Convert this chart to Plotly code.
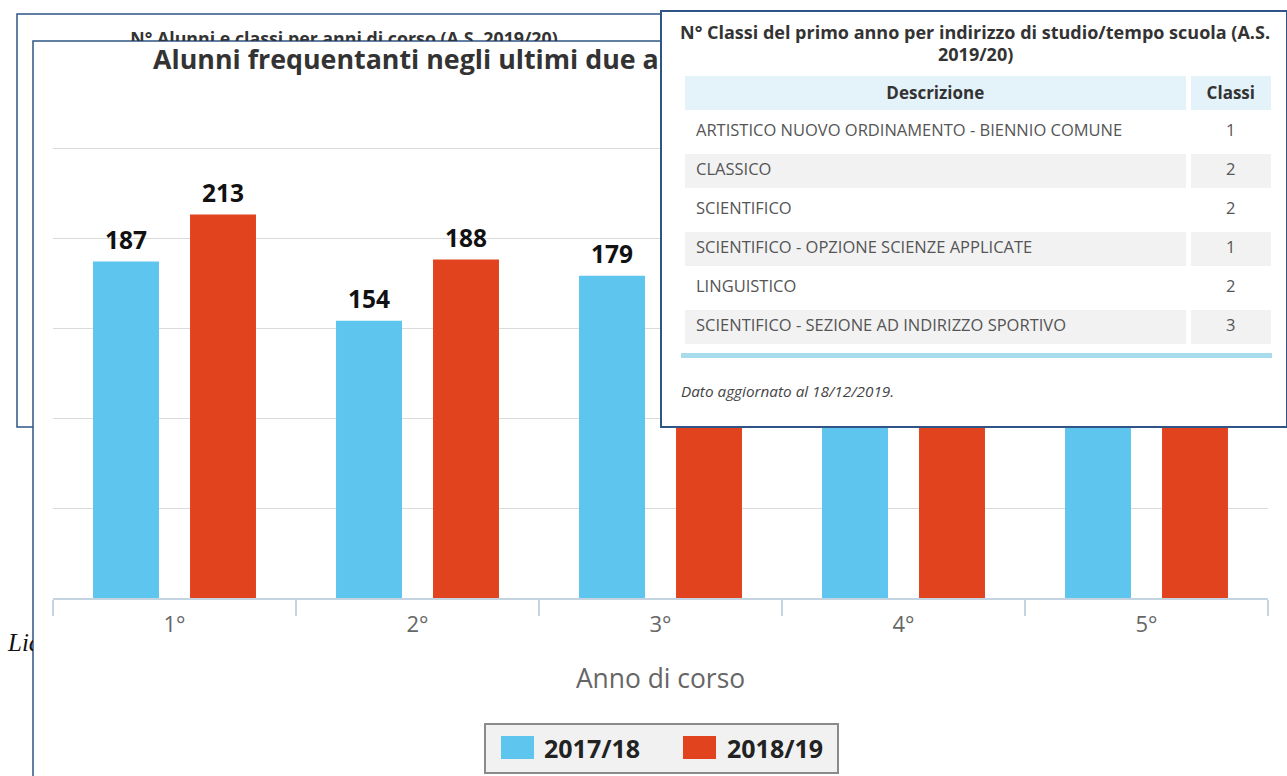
import plotly.graph_objects as go

# ---------------- data ----------------
categories = ["1°", "2°", "3°", "4°", "5°"]
series_names = ["2017/18", "2018/19"]
values_2017_18 = [187, 154, 179, 168, 160]
values_2018_19 = [213, 188, 175, 178, 170]
series_colors = ["#5EC5EE", "#E2431F"]

table_header = ["Descrizione", "Classi"]
table_desc = [
    "ARTISTICO NUOVO ORDINAMENTO - BIENNIO COMUNE",
    "CLASSICO",
    "SCIENTIFICO",
    "SCIENTIFICO - OPZIONE SCIENZE APPLICATE",
    "LINGUISTICO",
    "SCIENTIFICO - SEZIONE AD INDIRIZZO SPORTIVO",
]
table_classi = [1, 2, 2, 1, 2, 3]

main_title = "Alunni frequentanti negli ultimi due anni"
back_title = "N° Alunni e classi per anni di corso (A.S. 2019/20)"
table_title_1 = "N° Classi del primo anno per indirizzo di studio/tempo scuola (A.S."
table_title_2 = "2019/20)"
table_note = "Dato aggiornato al 18/12/2019."
x_title = "Anno di corso"
side_text = "Liceo"

# ---------------- layout helpers ----------------
W, H = 1287, 776
FONT = "Open Sans"
BORDER = "#2E5585"
CLEAR = "rgba(0,0,0,0)"


def fx(px):
    return px / W


def fy(py):
    return 1 - py / H


fig = go.Figure()

# bars
for name, vals, col, og in zip(series_names, [values_2017_18, values_2018_19], series_colors, ["a", "b"]):
    fig.add_trace(go.Bar(
        x=categories, y=vals, name=name, marker=dict(color=col, line=dict(width=0)),
        offsetgroup=og, hoverinfo="skip",
    ))

# value labels above bars
for name, vals, og in zip(series_names, [values_2017_18, values_2018_19], ["a", "b"]):
    fig.add_trace(go.Scatter(
        x=categories, y=vals, mode="markers+text", text=[str(v) for v in vals],
        textposition="top center", marker=dict(size=9, opacity=0),
        textfont=dict(family=FONT, size=24.5, color="#111111", weight="bold"),
        offsetgroup=og, cliponaxis=False, hoverinfo="skip", showlegend=False,
    ))

# main title (full-page overlay axes, covered by the table panel)
fig.add_trace(go.Scatter(
    x=[153], y=[62], xaxis="x2", yaxis="y2", mode="text", text=[main_title],
    textposition="middle right",
    textfont=dict(family=FONT, size=26.8, color="#333333", weight="bold"),
    hoverinfo="skip", showlegend=False,
))

# back panel title (clipped by the main panel top edge)
fig.add_trace(go.Scatter(
    x=[344], y=[40.5], xaxis="x3", yaxis="y3", mode="text", text=[back_title],
    textposition="middle center",
    textfont=dict(family=FONT, size=17.8, color="#333333", weight="bold"),
    hoverinfo="skip", showlegend=False, cliponaxis=True,
))

# side text clipped by main panel left edge
fig.add_trace(go.Scatter(
    x=[8], y=[645], xaxis="x4", yaxis="y4", mode="text", text=[side_text],
    textposition="middle right",
    textfont=dict(family="Liberation Serif", size=25, color="#111111", style="italic"),
    hoverinfo="skip", showlegend=False, cliponaxis=True,
))

# table panel background (a one-cell table drawn above the chart)
fig.add_trace(go.Table(
    domain=dict(x=[fx(661), 1], y=[fy(428.5), fy(11)]),
    columnwidth=[1],
    header=dict(values=[""], height=416, fill_color="white", line=dict(color=BORDER, width=2)),
    cells=dict(values=[[""]], height=1, fill_color="white", line=dict(color="white", width=0)),
))

# table: row structure + header
n = len(table_desc)
row_fill = ["#FFFFFF" if i % 2 == 0 else "#F2F2F2" for i in range(n)]
HEADER_H, ROW_H = 37, 39
fig.add_trace(go.Table(
    domain=dict(x=[fx(682), fx(1273)], y=[fy(73 + HEADER_H + n * ROW_H + 2), fy(73)]),
    columnwidth=[506.6, 84.4],
    header=dict(
        values=["<b>%s</b>" % h for h in table_header],
        fill_color="#E4F2F9", line=dict(color="white", width=5),
        align="center", height=HEADER_H,
        font=dict(family=FONT, size=17, color="#333333"),
    ),
    cells=dict(
        values=[[" "] * n, [" "] * n],
        fill_color=[row_fill, row_fill], line=dict(color="white", width=5),
        height=ROW_H,
    ),
))

# table: cell texts (transparent, vertically centred in the rows above)
TEXT_SHIFT = 5.5
fig.add_trace(go.Table(
    domain=dict(x=[fx(688), fx(1273)], y=[fy(73 + HEADER_H + n * ROW_H + 8), fy(73)]),
    columnwidth=[500.6, 84.4],
    header=dict(values=[" ", " "], fill_color=CLEAR, line=dict(color=CLEAR, width=0),
                height=HEADER_H + TEXT_SHIFT),
    cells=dict(
        values=[table_desc, table_classi],
        fill_color=CLEAR, line=dict(color=CLEAR, width=0),
        align=["left", "center"], height=ROW_H,
        font=dict(family=FONT, size=16.5, color="#555555"),
    ),
))

shapes = [
    # back panel
    dict(type="rect", xref="paper", yref="paper", x0=fx(17), x1=fx(1300), y0=fy(14), y1=fy(427),
         fillcolor="white", line=dict(color=BORDER, width=1.5), layer="below"),
    # main panel
    dict(type="rect", xref="paper", yref="paper", x0=fx(33), x1=fx(1300), y0=fy(41), y1=fy(800),
         fillcolor="white", line=dict(color=BORDER, width=1.5), layer="below"),
    # table bottom blue rule
    dict(type="rect", xref="paper", yref="paper", x0=fx(681), x1=fx(1272), y0=fy(353), y1=fy(358),
         fillcolor="#A8DBEC", line=dict(width=0), layer="above"),
    # legend box
    dict(type="rect", xref="paper", yref="paper", x0=fx(485), x1=fx(838), y0=fy(724), y1=fy(773),
         fillcolor="#F1F1F1", line=dict(color="#8A8A8A", width=2), layer="above"),
]
legend_sq_x = [501, 683]
legend_tx_x = [542, 725]
for sx, col in zip(legend_sq_x, series_colors):
    shapes.append(dict(type="rect", xref="paper", yref="paper", x0=fx(sx), x1=fx(sx + 33),
                       y0=fy(736), y1=fy(759), fillcolor=col, line=dict(width=0), layer="above"))

annotations = [
    dict(x=fx(975), y=fy(32), xref="paper", yref="paper", text="<b>%s</b>" % table_title_1,
         showarrow=False, font=dict(family=FONT, size=18, color="#333333"), xanchor="center", yanchor="middle"),
    dict(x=fx(975), y=fy(54), xref="paper", yref="paper", text="<b>%s</b>" % table_title_2,
         showarrow=False, font=dict(family=FONT, size=18, color="#333333"), xanchor="center", yanchor="middle"),
    dict(x=fx(679), y=fy(391), xref="paper", yref="paper", text="<i>%s</i>" % table_note,
         showarrow=False, font=dict(family=FONT, size=15.3, color="#444444"), xanchor="left", yanchor="middle"),
]
for tx, name in zip(legend_tx_x, series_names):
    annotations.append(dict(x=fx(tx), y=fy(748), xref="paper", yref="paper", text="<b>%s</b>" % name,
                            showarrow=False, font=dict(family=FONT, size=25, color="#222222"),
                            xanchor="left", yanchor="middle"))

hidden = dict(visible=False, fixedrange=True)
fig.update_layout(
    width=W, height=H, margin=dict(l=0, r=0, t=0, b=0),
    paper_bgcolor="white", plot_bgcolor=CLEAR,
    showlegend=False, barmode="group", bargap=0.2016, bargroupgap=0.32,
    scattermode="group", scattergap=0.2016,
    font=dict(family=FONT),
    xaxis=dict(
        domain=[fx(53), fx(1268)], type="category", range=[-0.5, 4.5],
        showgrid=False, showline=True, linecolor="#C4D4E0", linewidth=2,
        ticks="outside", tickson="boundaries", ticklen=16, tickwidth=1.5, tickcolor="#C4D4E0",
        tickfont=dict(family=FONT, size=22, color="#666666"), ticklabelstandoff=6,
        title=dict(text=x_title, font=dict(family=FONT, size=26.4, color="#666666"), standoff=32),
        fixedrange=True,
    ),
    yaxis=dict(
        domain=[fy(598), fy(598 - 251 * 1.8)], range=[0, 251], dtick=50,
        showgrid=True, gridcolor="#DADADA", gridwidth=1,
        showticklabels=False, zeroline=False, showline=False, ticks="", fixedrange=True,
    ),
    xaxis2=dict(domain=[0, 1], range=[0, W], anchor="y2", **hidden),
    yaxis2=dict(domain=[0, 1], range=[H, 0], anchor="x2", **hidden),
    xaxis3=dict(domain=[0, 1], range=[0, W], anchor="y3", **hidden),
    yaxis3=dict(domain=[fy(41), 1], range=[41, 0], anchor="x3", **hidden),
    xaxis4=dict(domain=[0, fx(33)], range=[0, 33], anchor="y4", **hidden),
    yaxis4=dict(domain=[0, 1], range=[H, 0], anchor="x4", **hidden),
    shapes=shapes, annotations=annotations,
)

fig.write_html("out.html", config={"displayModeBar": False},
               post_script="document.body.style.margin='0';document.body.style.overflow='hidden';")
